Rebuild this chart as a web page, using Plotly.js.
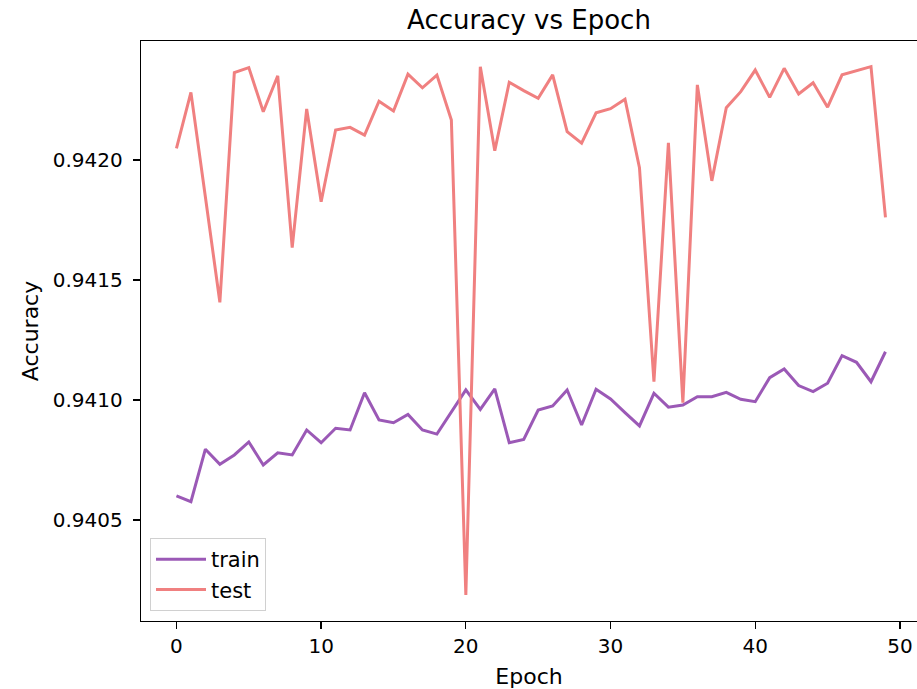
<!DOCTYPE html>
<html>
<head>
<meta charset="utf-8">
<script src="https://cdn.plot.ly/plotly-3.0.1.min.js"></script>
<style>html,body{margin:0;padding:0;background:#fff;}#chart{width:917px;height:689px;}</style>
</head>
<body>
<div id="chart"></div>
<script>
const epochs = Array.from({length: 50}, (_, i) => i);
const trainAcc = [
  0.940600, 0.940576, 0.940795, 0.940732, 0.940771, 0.940825, 0.940729, 0.940780, 0.940771, 0.940875,
  0.940822, 0.940882, 0.940875, 0.941030, 0.940917, 0.940905, 0.940940, 0.940875, 0.940858, 0.940951,
  0.941042, 0.940961, 0.941046, 0.940822, 0.940836, 0.940958, 0.940975, 0.941042, 0.940896, 0.941045,
  0.941004, 0.940947, 0.940892, 0.941028, 0.940970, 0.940979, 0.941014, 0.941014, 0.941032, 0.941003,
  0.940993, 0.941093, 0.941129, 0.941060, 0.941035, 0.941070, 0.941185, 0.941157, 0.941076, 0.941201
];
const testAcc = [
  0.942049, 0.942282, 0.941846, 0.941407, 0.942364, 0.942385, 0.942201, 0.942351, 0.941635, 0.942213,
  0.941826, 0.942125, 0.942136, 0.942104, 0.942245, 0.942204, 0.942358, 0.942301, 0.942354, 0.942167,
  0.940188, 0.942389, 0.942039, 0.942324, 0.942289, 0.942257, 0.942355, 0.942118, 0.942070, 0.942197,
  0.942214, 0.942253, 0.941968, 0.941076, 0.942072, 0.940989, 0.942313, 0.941913, 0.942218, 0.942285,
  0.942375, 0.942261, 0.942382, 0.942275, 0.942322, 0.942220, 0.942355, 0.942371, 0.942389, 0.941761
];
const yTicks = [0.9405, 0.9410, 0.9415, 0.9420];
const xTicks = [0, 10, 20, 30, 40, 50];

const font = 'DejaVu Sans, sans-serif';
const traces = [
  {x: epochs, y: trainAcc, name: 'train', type: 'scatter', mode: 'lines',
   line: {color: '#9b59b6', width: 3}},
  {x: epochs, y: testAcc, name: 'test', type: 'scatter', mode: 'lines',
   line: {color: '#f08080', width: 3}}
];
const layout = {
  width: 917, height: 689,
  margin: {l: 141, r: 0, t: 41, b: 68},
  paper_bgcolor: '#fff', plot_bgcolor: '#fff',
  font: {family: font, size: 20, color: '#000'},
  title: {text: 'Accuracy vs Epoch', font: {family: font, size: 26, color: '#000'},
          xref: 'paper', x: 0.5, xanchor: 'center', yref: 'container', y: 1 - 20/689, yanchor: 'middle'},
  xaxis: {
    range: [-2.45, 51.18], tickvals: xTicks, ticktext: xTicks.map(String),
    showgrid: false, zeroline: false, showline: true, linecolor: '#000', linewidth: 1.3, mirror: true,
    ticks: 'outside', ticklen: 7, tickwidth: 1.3, tickcolor: '#000',
    tickfont: {family: font, size: 20, color: '#000'},
    title: {text: 'Epoch', font: {family: font, size: 22, color: '#000'}, standoff: 11}
  },
  yaxis: {
    range: [0.940079, 0.942496], tickvals: yTicks, ticktext: yTicks.map(v => v.toFixed(4)),
    showgrid: false, zeroline: false, showline: true, linecolor: '#000', linewidth: 1.3,
    ticks: 'outside', ticklen: 7, tickwidth: 1.3, tickcolor: '#000', ticklabelstandoff: 6,
    tickfont: {family: font, size: 20, color: '#000'},
    title: {text: 'Accuracy', font: {family: font, size: 22, color: '#000'}, standoff: 8}
  },
  legend: {x: 0.0116, y: 0.017, xanchor: 'left', yanchor: 'bottom',
           bgcolor: 'rgba(255,255,255,0.8)', bordercolor: '#d0d0d0', borderwidth: 1,
           font: {family: font, size: 21, color: '#000'}, itemwidth: 50, tracegroupgap: 0},
  showlegend: true
};
Plotly.newPlot('chart', traces, layout, {displayModeBar: false, staticPlot: true});
</script>
</body>
</html>
